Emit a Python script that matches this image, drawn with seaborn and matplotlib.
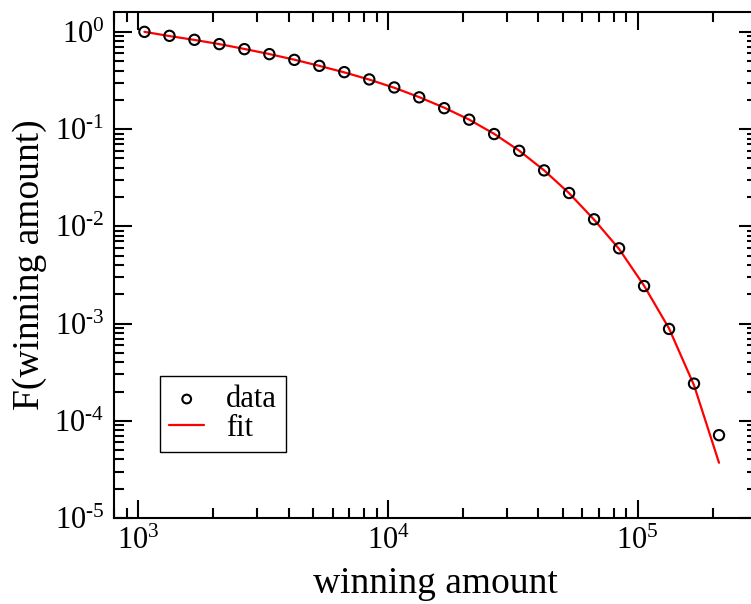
import matplotlib
matplotlib.use("Agg")
import matplotlib.pyplot as plt
from matplotlib.ticker import LogLocator, FuncFormatter, NullFormatter
import numpy as np
import seaborn as sns
import pandas as pd

# Complementary cumulative distribution of winning amounts
amount = [1059, 1334, 1679, 2113, 2661, 3350, 4217, 5309, 6683, 8414,
          10593, 13335, 16788, 21135, 26607, 33497, 42170, 53088, 66834,
          84140, 105925, 133352, 167880, 211349]
fraction = [1.0, 0.91, 0.828, 0.748, 0.664, 0.590, 0.515, 0.447, 0.385,
            0.324, 0.268, 0.212, 0.164, 0.125, 0.0889, 0.0598, 0.0376,
            0.0220, 0.0118, 0.00594, 0.00243, 0.000880, 0.000241, 7.11e-5]
fit = [1.0, 0.905, 0.826, 0.748, 0.667, 0.591, 0.517, 0.447, 0.383,
       0.323, 0.266, 0.213, 0.166, 0.125, 0.0893, 0.0600, 0.0376, 0.0219,
       0.0117, 0.00585, 0.00245, 0.000890, 0.000232, 3.7e-5]
series_labels = ["data", "fit"]

sns.set_style("ticks")
plt.rcParams["font.family"] = ["Liberation Serif", "DejaVu Serif"]
plt.rcParams["mathtext.fontset"] = "custom"
plt.rcParams["mathtext.rm"] = "Liberation Serif"
plt.rcParams["mathtext.it"] = "Liberation Serif:italic"
plt.rcParams["mathtext.default"] = "regular"
for key in ("text.color", "axes.labelcolor", "xtick.color", "ytick.color",
            "axes.edgecolor"):
    plt.rcParams[key] = "black"

df = pd.DataFrame({"amount": amount, "fraction": fraction, "fit": fit})

fig = plt.figure(figsize=(7.51, 6.04), dpi=100)
ax = fig.add_axes([114 / 751, (604 - 518) / 604, (757 - 114) / 751, (518 - 12) / 604])

sns.scatterplot(data=df, x="amount", y="fraction", ax=ax, marker="o",
                s=55, facecolor="none", edgecolor="black", linewidth=1.5,
                label=series_labels[0], zorder=3)
sns.lineplot(data=df, x="amount", y="fit", ax=ax, color="red",
             linewidth=1.6, label=series_labels[1], zorder=2)

ax.set_xscale("log")
ax.set_yscale("log")
ax.set_xlim(800, 3e5)
ax.set_ylim(1e-5, 1.6)


def power_label(v, pos):
    e = int(round(np.log10(v)))
    return r"$10^{\text{%d}}$" % e


for axis in (ax.xaxis, ax.yaxis):
    axis.set_major_locator(LogLocator(base=10, numticks=20))
    axis.set_minor_locator(LogLocator(base=10, subs=range(2, 10), numticks=20))
    axis.set_minor_formatter(NullFormatter())
    axis.set_major_formatter(FuncFormatter(power_label))

ax.tick_params(which="both", direction="in", top=True, right=True,
               width=1.5, colors="black", labelsize=22)
ax.tick_params(which="major", length=13)
ax.tick_params(which="minor", length=7)
ax.tick_params(axis="y", pad=7)
ax.tick_params(axis="x", pad=6)

for sp in ax.spines.values():
    sp.set_linewidth(1.5)
    sp.set_color("black")

ax.set_xlabel("winning amount", fontsize=27, labelpad=8)
ax.set_ylabel("F(winning amount)", fontsize=27, labelpad=5)

leg = ax.legend(loc="lower left", bbox_to_anchor=(0.0715, 0.130),
                borderaxespad=0, fontsize=22, frameon=True, fancybox=False,
                framealpha=1, edgecolor="black", handlelength=1.15,
                handletextpad=0.7, labelspacing=0.0, borderpad=0.3,
                markerscale=0.85)
leg.get_frame().set_linewidth(1.0)

fig.savefig("out.png", dpi=100)
